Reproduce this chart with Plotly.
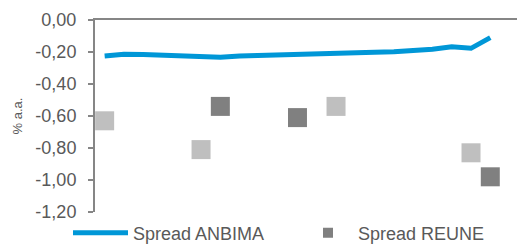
import plotly.graph_objects as go

# Data
periods = list(range(21))
spread_anbima = [-0.225, -0.214, -0.216, -0.222, -0.228, -0.231, -0.233, -0.225, -0.221, -0.214,
                 -0.2125, -0.209, -0.206, -0.204, -0.201, -0.198, -0.194, -0.183, -0.167, -0.177, -0.11]
reune_light_x = [0, 5, 12, 19]
reune_light_y = [-0.63, -0.81, -0.54, -0.83]
reune_dark_x = [6, 10, 20]
reune_dark_y = [-0.54, -0.61, -0.98]
y_tickvals = [0, -0.2, -0.4, -0.6, -0.8, -1.0, -1.2]
y_ticktext = ["0,00", "-0,20", "-0,40", "-0,60", "-0,80", "-1,00", "-1,20"]

BLUE = "#0097D7"
LIGHT = "#BFBFBF"
DARK = "#808080"
AXIS = "#868686"
TEXT = "#595959"
FONT = "Liberation Sans, Arial, sans-serif"

fig = go.Figure()
fig.add_trace(go.Scatter(x=periods, y=spread_anbima, mode="lines", name="Spread ANBIMA",
                         line=dict(color=BLUE, width=5), legend="legend"))
fig.add_trace(go.Scatter(x=reune_light_x, y=reune_light_y, mode="markers", showlegend=False,
                         marker=dict(symbol="square", size=19, color=LIGHT, line=dict(width=0))))
fig.add_trace(go.Scatter(x=reune_dark_x, y=reune_dark_y, mode="markers", showlegend=False,
                         marker=dict(symbol="square", size=19, color=DARK, line=dict(width=0))))
fig.add_trace(go.Scatter(x=[None], y=[None], mode="markers", name="Spread REUNE", legend="legend2",
                         marker=dict(symbol="square", size=10, color=DARK, line=dict(width=0))))

# page body has an 8px default margin, so the figure is sized to fit inside the window
fig.update_layout(
    width=517, height=237,
    margin=dict(l=87, r=0, t=12, b=33, autoexpand=False),
    paper_bgcolor="white", plot_bgcolor="white",
    font=dict(family=FONT, size=18, color=TEXT),
    showlegend=True,
    legend=dict(orientation="h", x=(68-95)/430, xanchor="left", y=-0.11, yanchor="middle",
                font=dict(size=18, color=TEXT), bgcolor="rgba(0,0,0,0)", itemwidth=55,
                tracegroupgap=0),
    legend2=dict(orientation="h", x=(298-95)/430, xanchor="left", y=-0.11, yanchor="middle",
                 font=dict(size=18, color=TEXT), bgcolor="rgba(0,0,0,0)", itemwidth=50),
    xaxis=dict(range=[-0.5, 21.8], side="top", showline=True, linecolor=AXIS, linewidth=2,
               showgrid=False, zeroline=False, showticklabels=False, ticks="", automargin=False),
    yaxis=dict(range=[-1.2, 0], tickvals=y_tickvals, ticktext=y_ticktext, showline=True,
               linecolor=AXIS, linewidth=2, ticks="outside", ticklen=5, tickcolor=AXIS, tickwidth=2,
               showgrid=False, zeroline=False, ticklabelstandoff=8, automargin=False,
               tickfont=dict(size=18, color=TEXT),
               title=dict(text="% a.a.", font=dict(size=13, color=TEXT), standoff=10)),
)

fig.write_html("out.html")
